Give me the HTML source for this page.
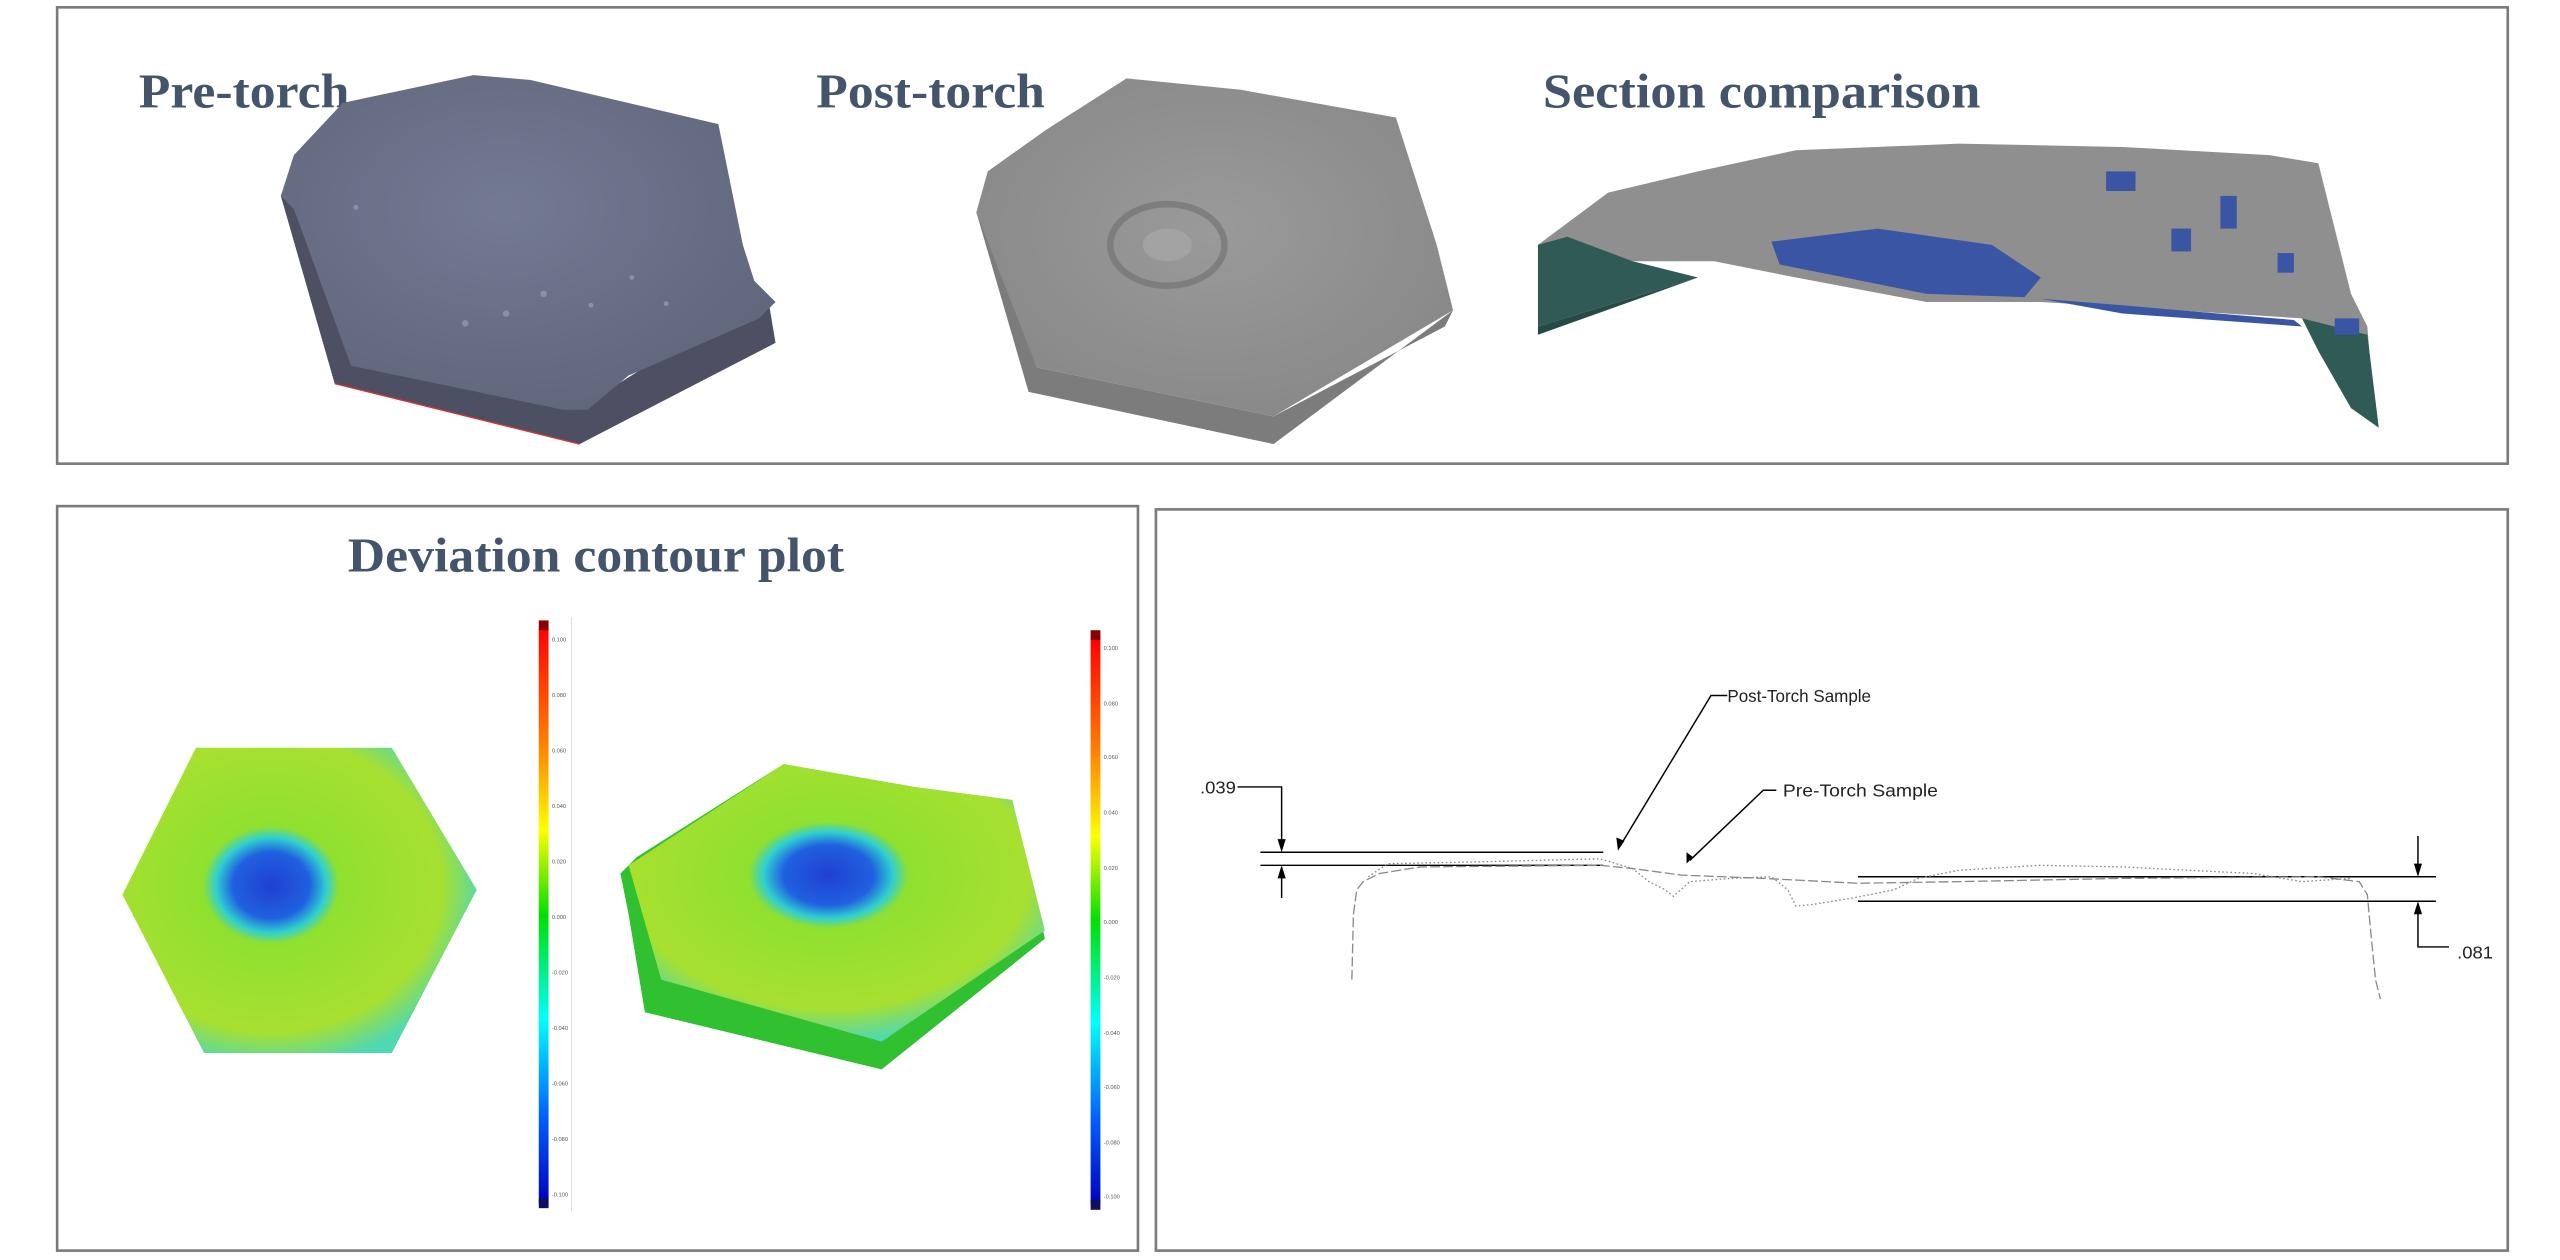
<!DOCTYPE html>
<html><head><meta charset="utf-8"><style>
html,body{margin:0;padding:0;background:#fff;width:2560px;height:1260px;overflow:hidden}
svg{display:block}
</style></head><body>
<svg width="2560" height="1260" viewBox="0 0 1568 771.75" preserveAspectRatio="none" xmlns="http://www.w3.org/2000/svg">
<defs>
<linearGradient id="cb" x1="0" y1="0" x2="0" y2="1">
<stop offset="0" stop-color="#ff0000"/><stop offset="0.2" stop-color="#ff8000"/><stop offset="0.35" stop-color="#ffff00"/><stop offset="0.5" stop-color="#00e000"/><stop offset="0.68" stop-color="#00ffff"/><stop offset="0.85" stop-color="#0060ff"/><stop offset="1" stop-color="#0000c0"/>
</linearGradient>
<radialGradient id="pre" cx="0.45" cy="0.4" r="0.7"><stop offset="0" stop-color="#737a92"/><stop offset="1" stop-color="#5e6479"/></radialGradient>
<radialGradient id="post" cx="0.5" cy="0.45" r="0.7"><stop offset="0" stop-color="#9a9a9a"/><stop offset="1" stop-color="#858585"/></radialGradient>
<radialGradient id="dev1" cx="0.42" cy="0.45" r="0.6"><stop offset="0" stop-color="#2040d0"/><stop offset="0.18" stop-color="#2060e0"/><stop offset="0.26" stop-color="#30d0d0"/><stop offset="0.32" stop-color="#90e030"/><stop offset="0.8" stop-color="#a8e030"/><stop offset="1" stop-color="#50d8b0"/></radialGradient>
<radialGradient id="dev2" cx="0.48" cy="0.4" r="0.6"><stop offset="0" stop-color="#2040d0"/><stop offset="0.18" stop-color="#2060e0"/><stop offset="0.26" stop-color="#30d0d0"/><stop offset="0.32" stop-color="#90e030"/><stop offset="0.8" stop-color="#a8e030"/><stop offset="1" stop-color="#50d8b0"/></radialGradient>
</defs>
<g fill="none" stroke="#7a7a7a" stroke-width="1.6">
<rect x="35" y="4.5" width="1501" height="279.5"/>
<rect x="35" y="310" width="662" height="456"/>
<rect x="708" y="312" width="828" height="454"/>
</g>
<g font-family="'Liberation Serif',serif" font-weight="bold" fill="#44546a" font-size="30">
<text x="85" y="66" textLength="129" lengthAdjust="spacingAndGlyphs">Pre-torch</text>
<text x="500" y="66" textLength="140" lengthAdjust="spacingAndGlyphs">Post-torch</text>
<text x="945" y="66" textLength="268" lengthAdjust="spacingAndGlyphs">Section comparison</text>
<text x="213" y="350" textLength="304" lengthAdjust="spacingAndGlyphs">Deviation contour plot</text>
</g>
<!-- pre-torch -->
<polygon points="172,120 205,235 355,272 475,210 470,180 458,185 355,250 215,222 180,120" fill="#4c5062"/>
<polygon points="180,95 210,63 290,46 325,49 440,76 455,150 462,172 475,185 465,195 385,230 360,251 345,251 215,224 180,128 172,120" fill="url(#pre)"/>
<line x1="205" y1="235" x2="355" y2="272" stroke="#d33" stroke-width="0.8"/>
<g fill="#8a90a6"><circle cx="218" cy="127" r="1.5"/><circle cx="285" cy="198" r="2"/><circle cx="310" cy="192" r="2"/><circle cx="333" cy="180" r="2"/><circle cx="362" cy="187" r="1.5"/><circle cx="408" cy="186" r="1.5"/><circle cx="387" cy="170" r="1.5"/></g>
<!-- post-torch -->
<polygon points="598,130 630,240 780,272 890,190 885,200 780,255 635,225 603,130" fill="#7c7c7c"/>
<polygon points="605,105 640,80 690,48 760,55 855,72 880,150 890,190 780,255 635,225 598,130" fill="url(#post)"/>
<ellipse cx="715" cy="150" rx="35" ry="25" fill="none" stroke="#6e6e6e" stroke-width="4" opacity="0.6"/>
<ellipse cx="715" cy="150" rx="15" ry="10" fill="#a8a8a8" opacity="0.7"/>
<!-- section comparison -->
<polygon points="942,150 985,118 1040,105 1100,92 1200,88 1300,90 1390,95 1420,100 1430,140 1440,180 1450,200 1452,225 1440,210 1410,195 1300,188 1250,185 1180,185 1100,170 1050,160 1000,160 960,160" fill="#8f8f8f"/>
<polygon points="942,150 960,145 1000,160 1040,170 942,200" fill="#2f5a55"/>
<polygon points="942,200 1040,170 942,205" fill="#264a46"/>
<polygon points="1410,195 1450,205 1457,262 1440,250 1420,215" fill="#2f5a55"/>
<polygon points="1085,148 1150,140 1220,150 1250,170 1240,182 1180,180 1120,168 1090,162" fill="#3b55a5"/>
<polygon points="1250,183 1300,187 1405,196 1410,200 1300,192" fill="#3b55a5"/>
<g fill="#3b55a5"><rect x="1290" y="105" width="18" height="12"/><rect x="1360" y="120" width="10" height="20"/><rect x="1330" y="140" width="12" height="14"/><rect x="1395" y="155" width="10" height="12"/><rect x="1430" y="195" width="15" height="10"/></g>
<!-- deviation plots -->
<polygon points="120,458 240,458 292,545 240,645 125,645 75,548" fill="url(#dev1)"/>
<polygon points="380,535 390,525 480,468 560,482 620,490 640,575 540,655 395,620 385,560" fill="#30c030"/>
<polygon points="385,530 480,468 560,482 620,490 640,570 540,638 405,600" fill="url(#dev2)"/>
<rect x="330" y="385" width="6" height="352" fill="url(#cb)"/>
<rect x="330" y="380" width="6" height="6" fill="#8b0000"/><rect x="330" y="734" width="6" height="6" fill="#101060"/>
<line x1="350" y1="378" x2="350" y2="742" stroke="#ddd" stroke-width="0.6"/>
<rect x="668" y="391" width="6" height="346" fill="url(#cb)"/>
<rect x="668" y="386" width="6" height="6" fill="#8b0000"/><rect x="668" y="735" width="6" height="6" fill="#101060"/>
<g font-family="'Liberation Sans',sans-serif" font-size="3.5" fill="#555">
<text x="338" y="393">0.100</text><text x="338" y="427">0.080</text><text x="338" y="461">0.060</text><text x="338" y="495">0.040</text><text x="338" y="529">0.020</text><text x="338" y="563">0.000</text><text x="338" y="597">-0.020</text><text x="338" y="631">-0.040</text><text x="338" y="665">-0.060</text><text x="338" y="699">-0.080</text><text x="338" y="733">-0.100</text>
<text x="676" y="398">0.100</text><text x="676" y="432">0.080</text><text x="676" y="465">0.060</text><text x="676" y="499">0.040</text><text x="676" y="533">0.020</text><text x="676" y="566">0.000</text><text x="676" y="600">-0.020</text><text x="676" y="634">-0.040</text><text x="676" y="667">-0.060</text><text x="676" y="701">-0.080</text><text x="676" y="734">-0.100</text>
</g>
<!-- section drawing -->
<g stroke="#000" stroke-width="0.9" fill="none">
<line x1="772" y1="522" x2="982" y2="522"/>
<line x1="772" y1="530" x2="982" y2="530"/>
<line x1="1138" y1="537" x2="1492" y2="537"/>
<line x1="1138" y1="552" x2="1492" y2="552"/>
<polyline points="758,482 785,482 785,518"/>
<line x1="785" y1="534" x2="785" y2="550"/>
<polyline points="1058,426 1048,426 993,517"/>
<polyline points="1088,484 1080,484 1035,527"/>
<line x1="1481" y1="512" x2="1481" y2="533"/>
<polyline points="1481,556 1481,580 1500,580"/>
</g>
<g fill="#000">
<polygon points="785,522 782.5,514 787.5,514"/>
<polygon points="785,530 782.5,538 787.5,538"/>
<polygon points="991,521 990,513 995,515"/>
<polygon points="1033,529 1033,522 1037,525"/>
<polygon points="1481,537 1478.5,529 1483.5,529"/>
<polygon points="1481,552 1478.5,560 1483.5,560"/>
</g>
<g stroke="#888" stroke-width="0.8" fill="none">
<path d="M828,600 L829,560 L831,545 L835,540 L845,535 L870,531 L980,530 L1000,532 L1030,536 L1080,538 L1138,541 L1200,540 L1300,538 L1420,537 L1445,540 L1450,548 L1452,570 L1455,600 L1458,612" stroke-dasharray="6,2"/>
<path d="M838,537 L850,529 L900,528 L980,526 L1000,532 L1010,540 L1020,545 L1025,549 L1035,540 L1060,538 L1085,537 L1095,545 L1100,555 L1110,554 L1135,550 L1160,545 L1175,538 L1200,533 L1250,530 L1300,531 L1380,535 L1410,540 L1440,538" stroke-dasharray="1,1.5"/>
</g>
<g font-family="'Liberation Sans',sans-serif" font-size="11" fill="#222">
<text x="735" y="486" textLength="22" lengthAdjust="spacingAndGlyphs">.039</text>
<text x="1058" y="430" textLength="88" lengthAdjust="spacingAndGlyphs">Post-Torch Sample</text>
<text x="1092" y="488" textLength="95" lengthAdjust="spacingAndGlyphs">Pre-Torch Sample</text>
<text x="1505" y="587" textLength="22" lengthAdjust="spacingAndGlyphs">.081</text>
</g>
</svg>
</body></html>
